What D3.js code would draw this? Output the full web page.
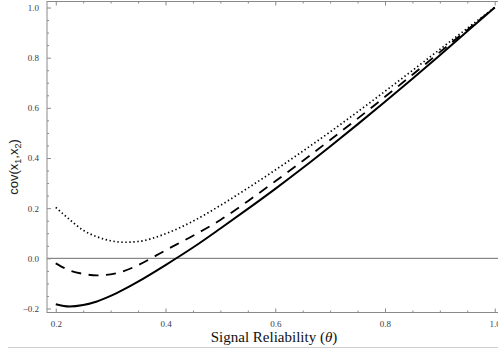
<!DOCTYPE html>
<html><head><meta charset="utf-8">
<script src="https://cdn.jsdelivr.net/npm/d3@7"></script>
<style>html,body{margin:0;padding:0;background:#fff;}</style>
</head><body>
<svg id="c" width="498" height="356"></svg>
<script>
const theta = [0.2,0.225,0.25,0.275,0.3,0.325,0.35,0.4,0.45,0.5,0.55,0.6,0.65,0.7,0.75,0.8,0.85,0.9,0.95,1.0];
const solidVals = [-0.183,-0.192,-0.186,-0.172,-0.150,-0.123,-0.093,-0.027,0.043,0.119,0.197,0.277,0.360,0.446,0.534,0.624,0.716,0.810,0.905,1.0];
const dashedVals = [-0.020,-0.048,-0.062,-0.068,-0.064,-0.050,-0.027,0.032,0.090,0.153,0.228,0.307,0.388,0.472,0.557,0.644,0.732,0.822,0.911,1.0];
const dottedVals = [0.203,0.155,0.112,0.086,0.070,0.064,0.067,0.098,0.148,0.211,0.280,0.352,0.427,0.504,0.584,0.666,0.749,0.833,0.917,1.0];
const xTicks = [0.2,0.4,0.6,0.8,1.0];
const yTicks = [-0.2,0.0,0.2,0.4,0.6,0.8,1.0];
const xLabel = "Signal Reliability (";
const yLabel = ["cov(x", "1", ",x", "2", ")"];

const svg = d3.select("#c");
const x = d3.scaleLinear().domain([0.184, 1.016]).range([47, 503.5]);
const y = d3.scaleLinear().domain([-0.216, 1.024]).range([312.5, 1.5]);
const frame = "#8a8a8a";

// bottom divider
svg.append("line").attr("x1",8).attr("x2",498).attr("y1",347.5).attr("y2",347.5)
  .attr("stroke","#cfcfcf").attr("stroke-width",1);

// zero line
svg.append("line").attr("x1",x(0.184)).attr("x2",x(1.016)).attr("y1",y(0)).attr("y2",y(0))
  .attr("stroke","#6e6e6e").attr("stroke-width",1);

// frame
const g = svg.append("g");
g.append("rect").attr("x",x(0.184)).attr("y",y(1.024)).attr("width",x(1.016)-x(0.184))
  .attr("height",y(-0.216)-y(1.024)).attr("fill","none").attr("stroke",frame).attr("stroke-width",1);

const xMinor = d3.range(0.2, 1.0001, 0.05).filter(v => !xTicks.some(t => Math.abs(t-v)<1e-6));
const yMinor = d3.range(-0.2, 1.0001, 0.05).filter(v => !yTicks.some(t => Math.abs(t-v)<1e-6));

const xb = d3.axisBottom(x).tickValues(xTicks).tickSize(-4).tickPadding(8).tickFormat(d3.format(".1f"));
const ab = svg.append("g").attr("transform",`translate(0,${y(-0.216)})`).call(xb);
const xt = d3.axisTop(x).tickValues(xTicks).tickSize(-4).tickFormat("");
const at = svg.append("g").attr("transform",`translate(0,${y(1.024)})`).call(xt);
const yl = d3.axisLeft(y).tickValues(yTicks).tickSize(-4).tickPadding(8).tickFormat(d => d3.format(".1f")(d).replace("-","\u2212"));
const al = svg.append("g").attr("transform",`translate(${x(0.184)},0)`).call(yl);
// minor ticks
svg.append("g").attr("transform",`translate(0,${y(-0.216)})`).call(d3.axisBottom(x).tickValues(xMinor).tickSize(-2).tickFormat(""));
svg.append("g").attr("transform",`translate(0,${y(1.024)})`).call(d3.axisTop(x).tickValues(xMinor).tickSize(-2).tickFormat(""));
svg.append("g").attr("transform",`translate(${x(0.184)},0)`).call(d3.axisLeft(y).tickValues(yMinor).tickSize(-2).tickFormat(""));

svg.selectAll(".domain").remove();
svg.selectAll(".tick line").attr("stroke",frame);
svg.selectAll(".tick text").attr("font-family","'Liberation Serif', 'Times New Roman', serif")
  .attr("font-size","9px").attr("fill","#3a3a4a");

const line = d3.line().x((d,i)=>x(theta[i])).y(d=>y(d)).curve(d3.curveMonotoneX);
const plot = svg.append("g");
plot.append("path").datum(dottedVals).attr("d",line).attr("fill","none").attr("stroke","#000")
  .attr("stroke-width",1.7).attr("stroke-dasharray","1.4,2.6");
plot.append("path").datum(dashedVals).attr("d",line).attr("fill","none").attr("stroke","#000")
  .attr("stroke-width",1.8).attr("stroke-dasharray","10,7.5");
plot.append("path").datum(solidVals).attr("d",line).attr("fill","none").attr("stroke","#000")
  .attr("stroke-width",2);

// x label
const xt2 = svg.append("text").attr("x",274).attr("y",342).attr("text-anchor","middle")
  .attr("font-family","'Liberation Serif', 'Times New Roman', serif").attr("font-size","15px").attr("fill","#111");
xt2.append("tspan").text(xLabel);
xt2.append("tspan").attr("font-style","italic").text("\u03B8");
xt2.append("tspan").text(")");

// y label
const ytx = svg.append("text").attr("transform","translate(18,167) rotate(-90)").attr("text-anchor","middle")
  .attr("font-family","'Liberation Sans', Arial, sans-serif").attr("font-size","13px").attr("fill","#222");
yLabel.forEach((s,i)=>{
  const t = ytx.append("tspan").text(s);
  if (i===1||i===3) t.attr("font-size","9px").attr("dy", "3");
  else if (i===2||i===4) t.attr("dy","-3");
});
</script>
</body></html>
